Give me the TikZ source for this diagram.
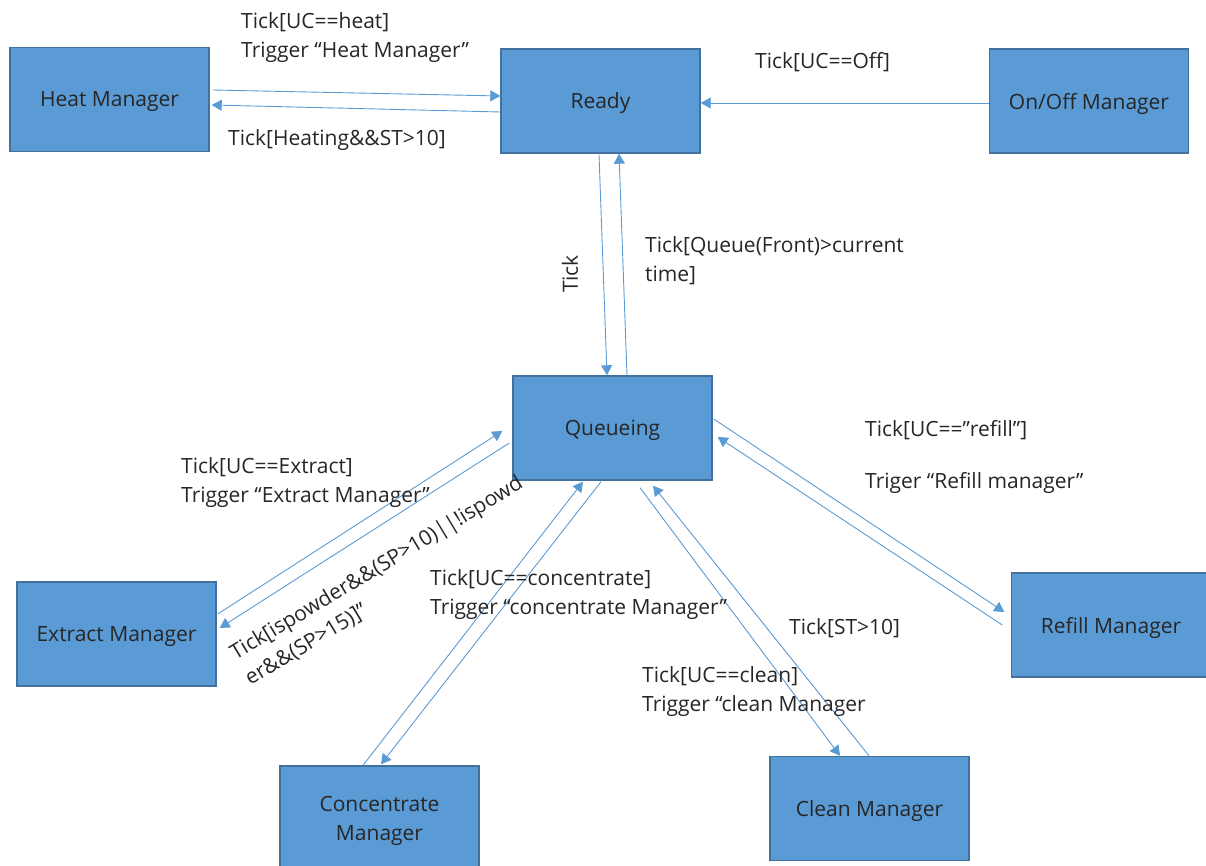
\documentclass[tikz,border=0pt]{standalone}
\usepackage{fontspec}
\setmainfont{Open Sans}
\usetikzlibrary{arrows.meta}

\definecolor{boxfill}{HTML}{5B9BD5}
\definecolor{boxline}{HTML}{41719C}
\definecolor{inktext}{HTML}{262626}

\tikzset{
    managerbox/.style={draw=boxline, fill=boxfill, line width=1.4pt,
        minimum width=199pt, minimum height=104pt, inner sep=0pt,
        text depth=0pt, align=center, text=inktext},
    flow/.style={draw=boxfill, line width=0.9pt,
        -{Triangle[length=10pt,width=11pt]}},
    guard/.style={inner sep=0pt, align=left, anchor=west, text=inktext},
}

\begin{document}
\begin{tikzpicture}[x=1pt, y=-1pt, font=\fontsize{21}{29}\selectfont]
    \useasboundingbox (0,0) rectangle (1206,866);

    % states and managers
    \foreach \nm/\X/\Y/\txt in {heat/109.5/99.5/Heat Manager,
        ready/600.5/101/Ready, onoff/1089/101/{On/Off Manager},
        queue/612.5/428/Queueing, extract/116.5/634/Extract Manager,
        conc/379.5/818/Concentrate\\Manager, clean/869.5/808.5/Clean Manager,
        refill/1111/625/Refill Manager}
        \node[managerbox] (\nm) at (\X,\Y) {\txt};

    % top row
    \draw[flow] ([shift={(3,-9.5)}]heat.east) -- ([shift={(0,-5)}]ready.west);
    \draw[flow] ([shift={(0,11)}]ready.west) -- ([shift={(2,5.5)}]heat.east);
    \draw[flow] ([shift={(0,2)}]onoff.west) -- ([shift={(0,2)}]ready.east);

    % ready <-> queueing
    \draw[flow] ([shift={(-1.5,1)}]ready.south) -- ([shift={(-5.5,0)}]queue.north);
    \draw[flow] ([shift={(14.5,0)}]queue.north) -- ([shift={(18.5,0)}]ready.south);

    % queueing <-> managers
    \draw[flow] ([shift={(1,-20)}]extract.east) -- ([shift={(-10,3)}]queue.west);
    \draw[flow] ([shift={(-3,15)}]queue.west) -- ([shift={(3,-6)}]extract.east);
    \draw[flow] ([shift={(-16.5,0)}]conc.north) -- ([shift={(-29.5,1)}]queue.south);
    \draw[flow] ([shift={(-11.5,1)}]queue.south) -- ([shift={(1.5,-1)}]conc.north);
    \draw[flow] ([shift={(27.5,7)}]queue.south) -- ([shift={(-29.5,0)}]clean.north);
    \draw[flow] ([shift={(-0.5,0)}]clean.north) -- ([shift={(40.5,5)}]queue.south);
    \draw[flow] ([shift={(1,-9)}]queue.east) -- ([shift={(-6.5,-13)}]refill.west);
    \draw[flow] ([shift={(-8.5,0)}]refill.west) -- ([shift={(5,9)}]queue.east);

    % guards
    \node[guard] (gheat) at (241,37.5) {Tick[UC==heat]\\Trigger “Heat Manager”};
    \node[guard] (gheating) at (228,140) {Tick[Heating\&\&ST>10]};
    \node[guard] (goff) at (755,62) {Tick[UC==Off]};
    \node[guard, anchor=center, rotate=90] (gtick) at (570,274) {Tick};
    \node[guard] (gfront) at (645,261) {Tick[Queue(Front)>current\\time]};
    \node[guard] (gextract) at (181,483) {Tick[UC==Extract]\\Trigger “Extract Manager”};
    \node[guard, anchor=center, rotate=31] (gpowder) at (384,581)
        {Tick[ispowder\&\&(SP>10)||!ispowd\\er\&\&(SP>15)]”};
    \node[guard] (gconc) at (430,594.5) {Tick[UC==concentrate]\\Trigger “concentrate Manager”};
    \node[guard] (gst) at (789,628) {Tick[ST>10]};
    \node[guard] (gclean) at (642,691.5) {Tick[UC==clean]\\Trigger “clean Manager};
    \node[guard] (grefill) at (865,457) {Tick[UC==”refill”]\\[23pt]Triger “Refill manager”};
\end{tikzpicture}
\end{document}
